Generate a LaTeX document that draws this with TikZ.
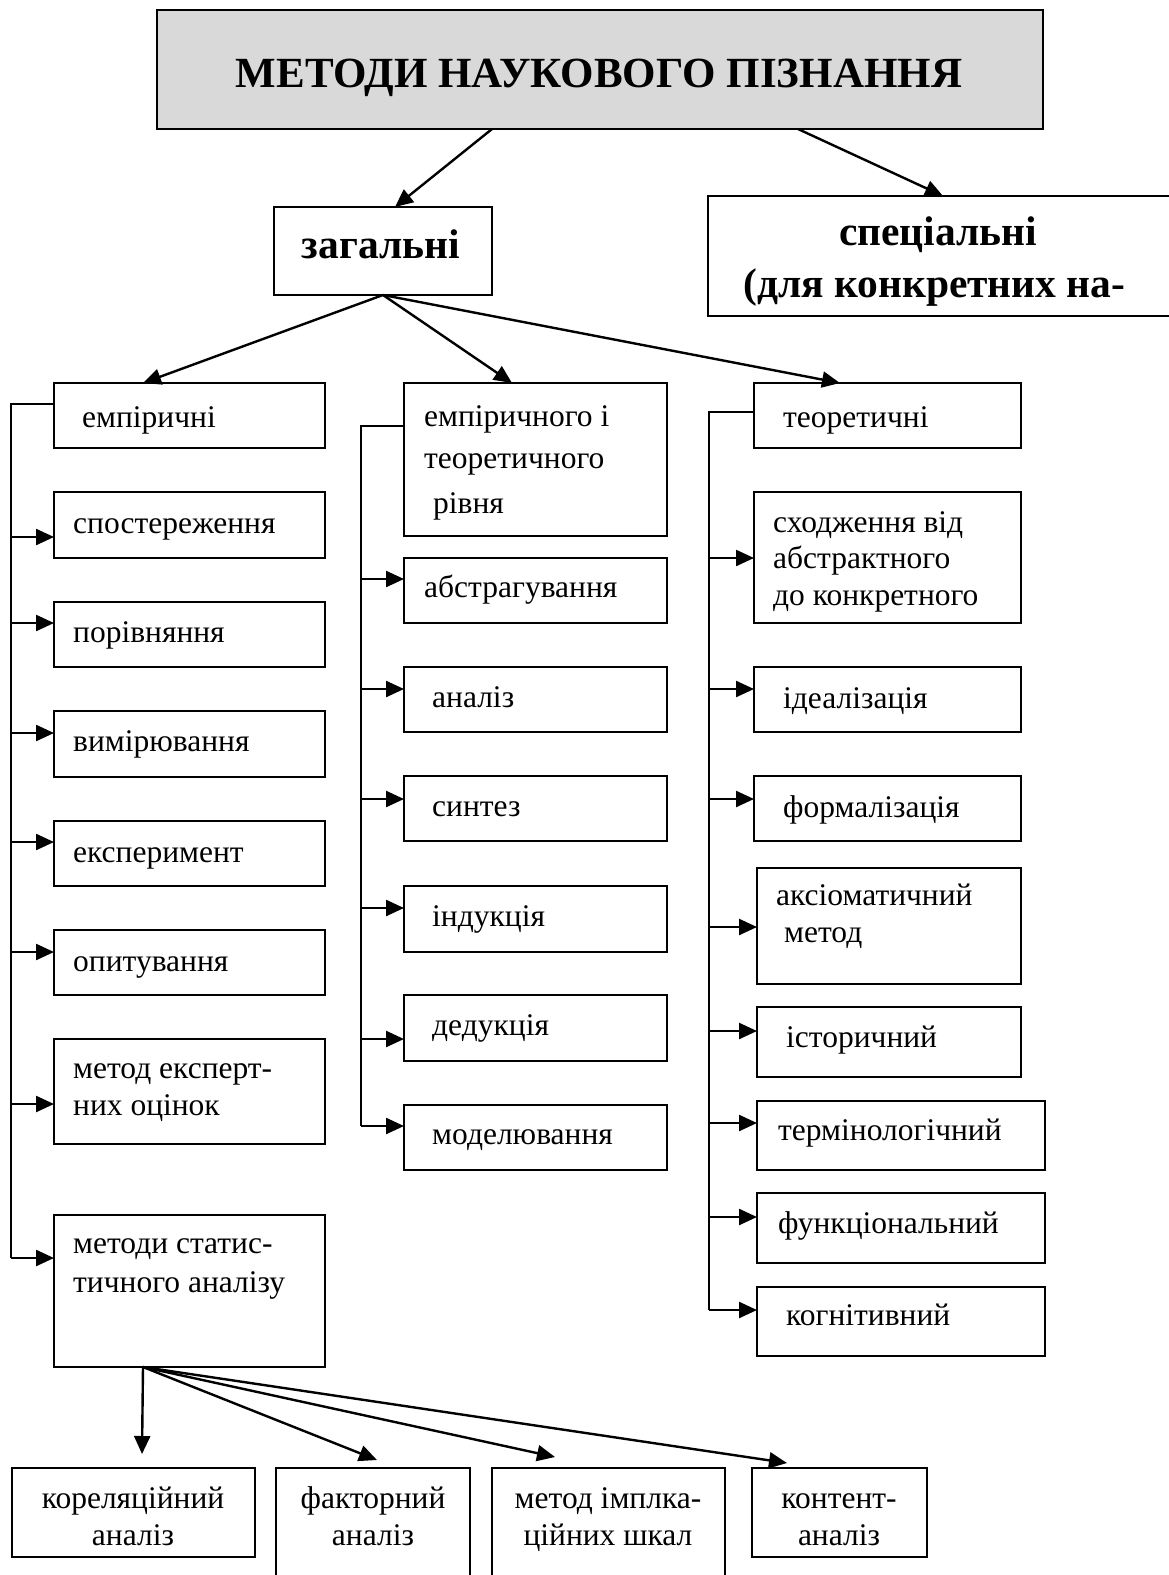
\documentclass[tikz,border=0pt]{standalone}
\usepackage{fontspec}
\setmainfont{Liberation Serif}
\usetikzlibrary{arrows.meta}
\definecolor{titlegray}{HTML}{D9D9D9}
\tikzset{
  box/.style={draw, line width=2.2pt, inner sep=0pt, outer sep=0pt, anchor=north west},
  txt/.style={inner sep=0pt, anchor=base west, font=\fontsize{31.5}{36}\selectfont},
  ctxt/.style={inner sep=0pt, anchor=base, font=\fontsize{31.5}{36}\selectfont},
  btxt/.style={inner sep=0pt, anchor=base, font=\fontsize{41.5}{46}\selectfont\bfseries},
  ln/.style={line width=2.4pt},
  arr/.style={line width=2.4pt, -{Triangle[length=18pt,width=16pt]}}
}
\newcommand\mybx[6][]{\node[box,#1,minimum width={(#4-#2)*1pt},minimum height={(#5-#3)*1pt}] (#6) at (#2,#3) {};}
\newcommand\mytx[4]{\node[txt] (#1) at (#2,#3) {#4};}
\newcommand\myctx[4]{\node[ctxt] (#1) at (#2,#3) {#4};}
\newcommand\myfeed[3]{\draw[arr] (#1 |- 0,#3) -- (#2.west |- 0,#3);}
\begin{document}
\begin{tikzpicture}[x=1pt,y=-1pt]
\useasboundingbox (0,0) rectangle (1169,1575);
\clip (0,0) rectangle (1169,1575);
\fill[white] (0,0) rectangle (1169,1575);
% top level
\mybx[fill=titlegray]{157}{10}{1043}{129}{title}
\node[btxt,font=\fontsize{43}{48}\selectfont\bfseries] (ttitle) at (599,87) {МЕТОДИ НАУКОВОГО ПІЗНАННЯ};
\mybx{274}{207}{492}{295}{zag}
\node[btxt] (tzag) at (381,258) {загальні};
\mybx{708}{196}{1185}{316}{spec}
\node[btxt] (tspec1) at (938,245) {спеціальні};
\node[btxt,anchor=base west] (tspec2) at (743,297) {(для конкретних на-};
\draw[arr] ([xshift=-108pt]title.south) -- ([xshift=12pt]zag.north);
\draw[arr] ([xshift=198pt]title.south) -- ([xshift=-3.5pt]spec.north);
% column heads
\mybx{54}{383}{325}{448}{emp}
\mytx{temp}{82}{427}{емпіричні}
\mybx{404}{383}{667}{536}{mid}
\mytx{tmid1}{424}{426}{емпіричного і}
\mytx{tmid2}{424}{468}{теоретичного}
\mytx{tmid3}{433}{513}{рівня}
\mybx{754}{383}{1021}{448}{teor}
\mytx{tteor}{783}{427}{теоретичні}
\draw[arr] (zag.south) -- ([xshift=-46.5pt]emp.north);
\draw[arr] (zag.south) -- ([xshift=-23.5pt]mid.north);
\draw[arr] (zag.south) -- ([xshift=-47.5pt]teor.north);
% column 1
\mybx{54}{492}{325}{558}{sp}   \mytx{tsp}{73}{533}{спостереження}
\mybx{54}{602}{325}{667}{por}  \mytx{tpor}{73}{642}{порівняння}
\mybx{54}{711}{325}{777}{vym}  \mytx{tvym}{73}{751}{вимірювання}
\mybx{54}{821}{325}{886}{eks}  \mytx{teks}{73}{862}{експеримент}
\mybx{54}{930}{325}{995}{opy}  \mytx{topy}{73}{971}{опитування}
\mybx{54}{1039}{325}{1144}{eko} \mytx{teko1}{73}{1078}{метод експерт-}
\mytx{teko2}{73}{1115}{них оцінок}
\mybx{54}{1215}{325}{1367}{stat} \mytx{tstat1}{73}{1253}{методи статис-}
\mytx{tstat2}{73}{1292}{тичного аналізу}
\coordinate (b1top) at (11,404);
\coordinate (b1bot) at (11,1258);
\draw[ln] (emp.west |- b1top) -- (b1top) -- (b1bot);
\myfeed{b1top}{sp}{537}
\myfeed{b1top}{por}{623}
\myfeed{b1top}{vym}{733}
\myfeed{b1top}{eks}{842}
\myfeed{b1top}{opy}{952}
\myfeed{b1top}{eko}{1104}
\myfeed{b1top}{stat}{1258}
% column 2
\mybx{404}{558}{667}{623}{abs}  \mytx{tabs}{424}{597}{абстрагування}
\mybx{404}{667}{667}{732}{ana}  \mytx{tana}{432}{707}{аналіз}
\mybx{404}{776}{667}{841}{syn}  \mytx{tsyn}{432}{816}{синтез}
\mybx{404}{886}{667}{952}{ind}  \mytx{tind}{432}{926}{індукція}
\mybx{404}{995}{667}{1061}{ded} \mytx{tded}{432}{1035}{дедукція}
\mybx{404}{1105}{667}{1170}{mod} \mytx{tmod}{432}{1144}{моделювання}
\coordinate (b2top) at (361,426);
\coordinate (b2bot) at (361,1126);
\draw[ln] (mid.west |- b2top) -- (b2top) -- (b2bot);
\myfeed{b2top}{abs}{579}
\myfeed{b2top}{ana}{689}
\myfeed{b2top}{syn}{799}
\myfeed{b2top}{ind}{908}
\myfeed{b2top}{ded}{1039}
\myfeed{b2top}{mod}{1126}
% column 3
\mybx{754}{492}{1021}{623}{sho}  \mytx{tsho1}{773}{532}{сходження від}
\mytx{tsho2}{773}{568}{абстрактного}
\mytx{tsho3}{773}{605}{до конкретного}
\mybx{754}{667}{1021}{732}{ide}  \mytx{tide}{783}{708}{ідеалізація}
\mybx{754}{776}{1021}{841}{for}  \mytx{tfor}{783}{817}{формалізація}
\mybx{757}{868}{1021}{984}{aks}  \mytx{taks1}{776}{905}{аксіоматичний}
\mytx{taks2}{784}{942}{метод}
\mybx{757}{1007}{1021}{1077}{ist} \mytx{tist}{786}{1047}{історичний}
\mybx{757}{1101}{1045}{1170}{ter} \mytx{tter}{778}{1140}{термінологічний}
\mybx{757}{1193}{1045}{1263}{fun} \mytx{tfun}{778}{1233}{функціональний}
\mybx{757}{1287}{1045}{1356}{kog} \mytx{tkog}{786}{1325}{когнітивний}
\coordinate (b3top) at (709,412);
\coordinate (b3bot) at (709,1310);
\draw[ln] (teor.west |- b3top) -- (b3top) -- (b3bot);
\myfeed{b3top}{sho}{558}
\myfeed{b3top}{ide}{689}
\myfeed{b3top}{for}{799}
\myfeed{b3top}{aks}{927}
\myfeed{b3top}{ist}{1031}
\myfeed{b3top}{ter}{1123}
\myfeed{b3top}{fun}{1217}
\myfeed{b3top}{kog}{1310}
% bottom row
\mybx{12}{1468}{255}{1557}{kor}   \myctx{tkor1}{133}{1508}{кореляційний}
\myctx{tkor2}{133}{1545}{аналіз}
\mybx{276}{1468}{470}{1595}{fak}  \myctx{tfak1}{373}{1508}{факторний}
\myctx{tfak2}{373}{1545}{аналіз}
\mybx{492}{1468}{725}{1595}{imp}  \myctx{timp1}{608}{1508}{метод імплка-}
\myctx{timp2}{608}{1545}{ційних шкал}
\mybx{752}{1468}{927}{1557}{kon}  \myctx{tkon1}{839}{1508}{контент-}
\myctx{tkon2}{839}{1545}{аналіз}
\coordinate (s0) at ([xshift=-46.5pt]stat.south);
\draw[arr] (s0) -- ([xshift=8.5pt,yshift=14pt]kor.north);
\draw[arr] (s0) -- ([xshift=4pt,yshift=8pt]fak.north);
\draw[arr] (s0) -- ([xshift=-53.5pt,yshift=11pt]imp.north);
\draw[arr] (s0) -- ([xshift=-52.5pt,yshift=5pt]kon.north);
\end{tikzpicture}
\end{document}
